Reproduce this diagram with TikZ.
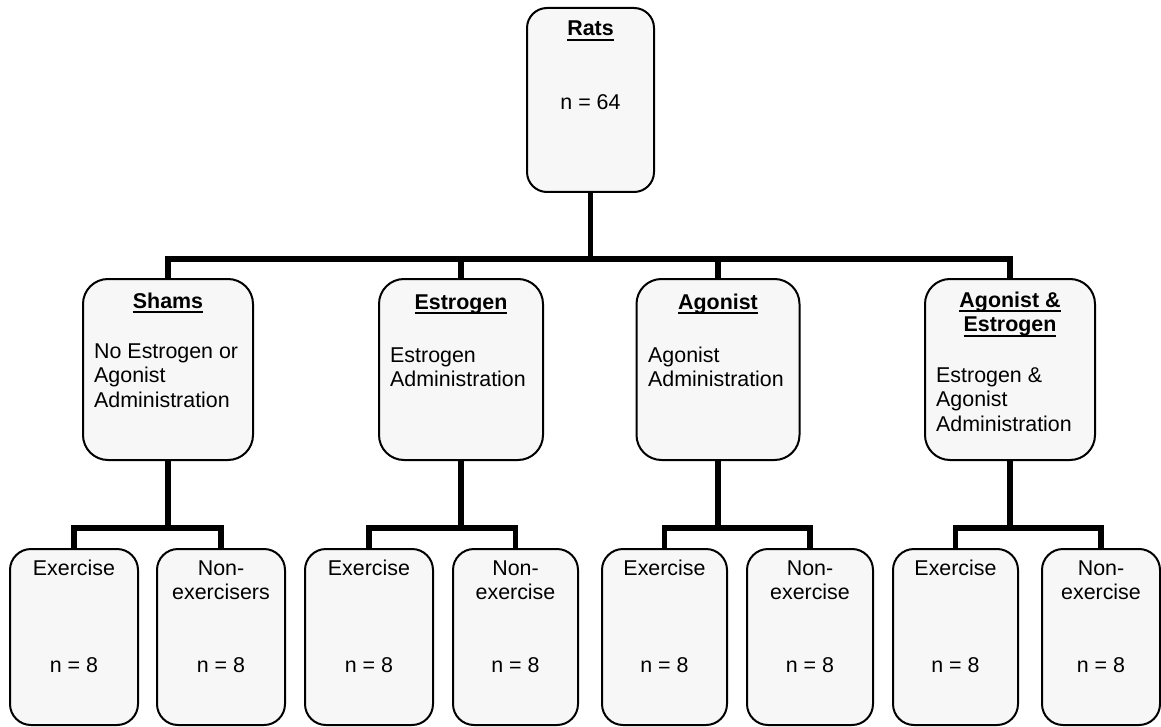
\documentclass[tikz,border=0pt]{standalone}
\usepackage{fontspec}
\setmainfont{Liberation Sans}
\usetikzlibrary{calc}
\newcommand\myul[1]{\leavevmode\setbox0\hbox{#1}\rlap{\rule[-5pt]{\wd0}{2pt}}\box0}
\newcommand\fs{\fontsize{21.4pt}{24.5pt}\selectfont}
\begin{document}
\begin{tikzpicture}[x=1pt,y=-1pt,
  box/.style={draw, line width=2pt, fill=black!3, rounded corners=#1, inner sep=0},
  box/.default=24pt,
  midbox/.style={box=25pt, minimum height=181pt},
  botbox/.style={box=21pt, minimum height=176pt},
  ttl/.style={inner sep=0, anchor=base, font=\fs\bfseries},
  lbl/.style={inner sep=0, anchor=base, font=\fs},
  body/.style={inner sep=0, anchor=base west, font=\fs},
  conn/.style={line width=5.5pt, line join=miter}]
\useasboundingbox (0,0) rectangle (1161,727);

% top
\node[box=20pt, minimum width=127pt, minimum height=184pt] (rats) at (590.5,100) {};
\node[ttl] (ratsT) at (590.5,36) {\myul{Rats}};
\node[lbl] (ratsN) at (590.5,110) {n = 64};

% middle row
\node[midbox, minimum width=170pt] (shams) at (168,369.5) {};
\node[midbox, minimum width=164pt] (estr) at (461,369.5) {};
\node[midbox, minimum width=163pt] (agon) at (718,369.5) {};
\node[midbox, minimum width=170pt] (agest) at (1010,369.5) {};

\node[ttl] (shamsT) at (168,308) {\myul{Shams}};
\node[body] (shamsB) at (94,358) {\parbox[t]{160pt}{\raggedright No Estrogen or\\Agonist\\Administration}};
\node[ttl] (estrT) at (461,309) {\myul{Estrogen}};
\node[body] (estrB) at (390,362) {\parbox[t]{160pt}{\raggedright Estrogen\\Administration}};
\node[ttl] (agonT) at (718,309) {\myul{Agonist}};
\node[body] (agonB) at (648,362) {\parbox[t]{160pt}{\raggedright Agonist\\Administration}};
\node[ttl] (agestT) at (1010,307) {\parbox[t]{180pt}{\centering\myul{Agonist \&}\\\myul{Estrogen}}};
\node[body] (agestB) at (936,382) {\parbox[t]{160pt}{\raggedright Estrogen \&\\Agonist\\Administration}};

% bottom row
\node[botbox, minimum width=128pt] (s1) at (74,637) {};
\node[botbox, minimum width=128pt] (s2) at (221,637) {};
\node[botbox, minimum width=128pt] (e1) at (369,637) {};
\node[botbox, minimum width=125pt] (e2) at (515.5,637) {};
\node[botbox, minimum width=125pt] (a1) at (664.5,637) {};
\node[botbox, minimum width=126pt] (a2) at (810,637) {};
\node[botbox, minimum width=125pt] (g1) at (955.5,637) {};
\node[botbox, minimum width=118pt] (g2) at (1101,637) {};

\foreach \b in {s1,e1,a1,g1}{
  \node[lbl] (\b T) at ($(\b.north)+(0,27)$) {Exercise};
  \node[lbl] (\b N) at ($(\b.north)+(0,124)$) {n = 8};
}
\node[lbl] (s2T) at ($(s2.north)+(0,27)$) {\parbox[t]{126pt}{\centering Non-\\exercisers}};
\foreach \b in {e2,a2,g2}{
  \node[lbl] (\b T) at ($(\b.north)+(0,27)$) {\parbox[t]{120pt}{\centering Non-\\exercise}};
}
\foreach \b in {s2,e2,a2,g2}{
  \node[lbl] (\b N) at ($(\b.north)+(0,124)$) {n = 8};
}

% connectors
\coordinate (top) at (590.5,259);
\draw[conn] (rats.south) -- (top);
\draw[conn] (shams.north) -- (shams.north |- top) -- (agest.north |- top) -- (agest.north);
\draw[conn] (estr.north) -- (estr.north |- top);
\draw[conn] (agon.north) -- (agon.north |- top);

\coordinate (sj) at (168,528);
\coordinate (ej) at (461,528);
\coordinate (aj) at (718,528);
\coordinate (gj) at (1010,528);
\draw[conn] (shams.south) -- (sj);
\draw[conn] (s1.north) -- (s1.north |- sj) -- (s2.north |- sj) -- (s2.north);
\draw[conn] (estr.south) -- (ej);
\draw[conn] (e1.north) -- (e1.north |- ej) -- (e2.north |- ej) -- (e2.north);
\draw[conn] (agon.south) -- (aj);
\draw[conn] (a1.north) -- (a1.north |- aj) -- (a2.north |- aj) -- (a2.north);
\draw[conn] (agest.south) -- (gj);
\draw[conn] (g1.north) -- (g1.north |- gj) -- (g2.north |- gj) -- (g2.north);
\end{tikzpicture}
\end{document}
